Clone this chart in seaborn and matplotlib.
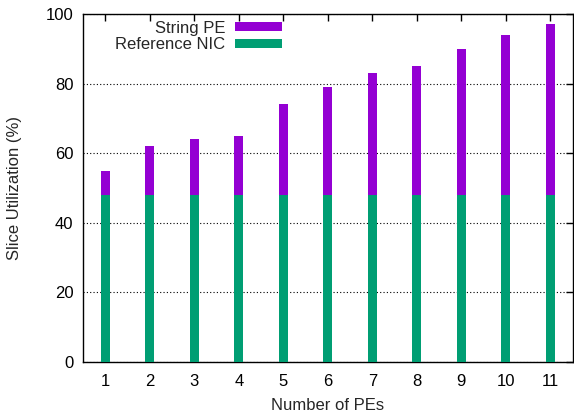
import matplotlib
matplotlib.use("Agg")
import matplotlib.pyplot as plt
import seaborn as sns
import pandas as pd
from matplotlib.patches import Patch

pes = ["1", "2", "3", "4", "5", "6", "7", "8", "9", "10", "11"]
total_util = [55, 62, 64, 65, 74, 79, 83, 85, 90, 94, 97]
nic_util = [48, 48, 48, 48, 48, 48, 48, 48, 48, 48, 48]

df = pd.DataFrame({"pes": pes, "total": total_util, "nic": nic_util})

sns.set_style("white")
plt.rcParams["font.family"] = ["Liberation Sans", "DejaVu Sans"]

purple = "#9400d3"
green = "#009e73"

fig = plt.figure(figsize=(5.74, 4.18), dpi=100)
ax = fig.add_axes([0.1446, 0.134, 0.853, 0.8325])

sns.barplot(data=df, x="pes", y="total", color=purple, width=0.2,
            saturation=1, ax=ax, linewidth=0, zorder=3)
sns.barplot(data=df, x="pes", y="nic", color=green, width=0.2,
            saturation=1, ax=ax, linewidth=0, zorder=3)

ax.set_xlim(-0.5, 10.5)
ax.set_ylim(0, 100)
ax.set_yticks([0, 20, 40, 60, 80, 100])
ax.set_xlabel("Number of PEs", fontsize=12, labelpad=6)
ax.set_ylabel("Slice Utilization (%)", fontsize=12, labelpad=17)
ax.yaxis.grid(True, linestyle=(0, (1, 2)), color="black", linewidth=0.8, zorder=0)
ax.set_axisbelow(True)
ax.tick_params(axis="both", direction="in", length=5, width=1, labelsize=12,
               top=True, right=True, colors="black")
ax.tick_params(axis="y", pad=7)
ax.tick_params(axis="x", pad=9)
for s in ax.spines.values():
    s.set_color("black")
    s.set_linewidth(1)

handles = [Patch(facecolor=purple, edgecolor="none", label="String PE"),
           Patch(facecolor=green, edgecolor="none", label="Reference NIC")]
ax.legend(handles=handles, loc="upper right", bbox_to_anchor=(0.42, 1.0),
          frameon=False, markerfirst=False, fontsize=12, handlelength=2.8,
          handleheight=0.45, labelspacing=0.1, handletextpad=0.6,
          borderaxespad=0.0)

fig.savefig("out.png", dpi=100)
